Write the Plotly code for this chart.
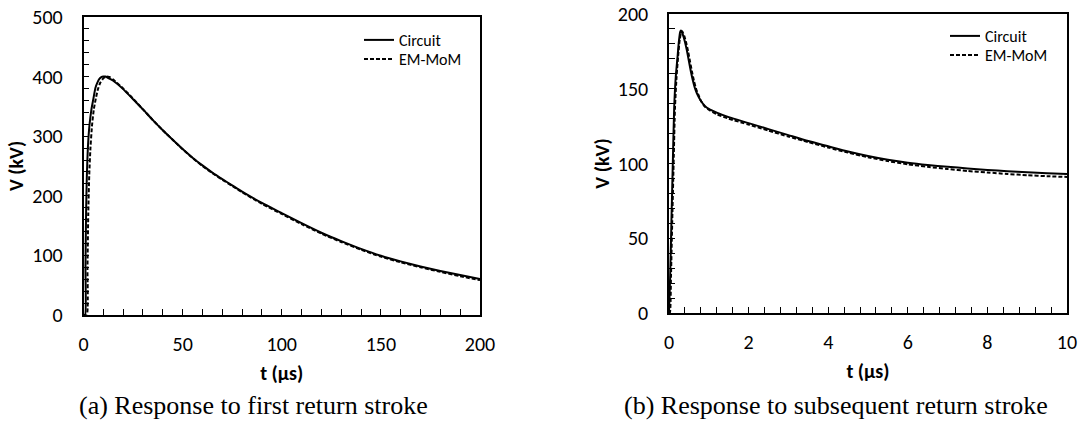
import plotly.graph_objects as go

W, H = 1083, 430

# ---- data: (a) first return stroke ----
t_a_circuit = [0, 0.8, 1.0, 1.3, 1.7, 2.2, 3, 4, 5, 6, 7, 8, 9, 10, 11, 12, 15, 20, 25, 30, 35, 40, 45, 50,
               55, 60, 65, 70, 75, 80, 90, 100, 110, 120, 130, 140, 150, 160, 170, 180, 190, 200]
v_a_circuit = [0, 0, 80, 170, 235, 280, 318, 345, 363, 381, 390, 396, 399, 400, 400, 398.5, 393, 379, 362, 345, 327, 310, 294, 278.5,
               264, 251, 239, 228, 217.5, 207, 188, 171, 154, 138, 124, 111, 99.5, 90, 81.5, 74, 67, 60.5]
t_a_mom = [0, 1.6, 2.0, 2.4, 2.9, 3.5, 4.3, 5.2, 6.2, 7.2, 8.5, 10, 11.5, 13, 15, 20, 25, 30, 35, 40, 45, 50,
           55, 60, 65, 70, 75, 80, 90, 100, 110, 120, 130, 140, 150, 160, 170, 180, 190, 200]
v_a_mom = [0, 0, 80, 170, 235, 280, 318, 345, 363, 378, 390, 397, 400, 399.5, 395, 380, 363, 345, 327, 310, 294, 278,
           263.5, 250, 238, 227, 216.5, 206, 186.5, 169.5, 152.5, 136.5, 122.5, 109.5, 98, 88.5, 80, 72.5, 65, 58.5]

# ---- data: (b) subsequent return stroke ----
t_b_circuit = [0, 0.03, 0.06, 0.1, 0.13, 0.17, 0.21, 0.25, 0.28, 0.3, 0.35, 0.4, 0.45, 0.5, 0.55, 0.6, 0.65, 0.7,
               0.8, 0.9, 1.0, 1.2, 1.5, 2, 2.5, 3, 3.5, 4, 4.5, 5, 5.5, 6, 6.5, 7, 7.5, 8, 8.5, 9, 9.5, 10]
v_b_circuit = [0, 25, 60, 105, 137, 158, 170, 182, 188, 189, 186, 181.5, 175.5, 168.5, 161.5, 155.5, 150.5, 147,
               142, 138.5, 136.5, 134, 131, 127, 123, 119, 115, 111.5, 108, 105, 102.5, 100.5, 99, 97.8, 96.7, 95.7, 94.8, 94.1, 93.5, 93]
t_b_mom = [0, 0.02, 0.05, 0.08, 0.12, 0.15, 0.19, 0.23, 0.27, 0.31, 0.33, 0.38, 0.43, 0.48, 0.53, 0.58, 0.63, 0.68, 0.73,
           0.8, 0.9, 1.0, 1.2, 1.5, 2, 2.5, 3, 3.5, 4, 4.5, 5, 5.5, 6, 6.5, 7, 7.5, 8, 8.5, 9, 9.5, 10]
v_b_mom = [0, 0, 25, 60, 105, 137, 158, 172, 183, 188, 188.5, 185.5, 181, 175, 168, 161, 155, 150, 146.5,
           142, 138, 136, 133, 130, 126, 122, 118, 114.3, 110.7, 107.3, 104.2, 101.6, 99.5, 97.8, 96.3, 95, 94, 93, 92.2, 91.5, 91]

series_names = ["Circuit", "EM-MoM"]
caption_a = "(a) Response to first return stroke"
caption_b = "(b) Response to subsequent return stroke"
x_title = "t (µs)"
y_title = "V (kV)"

FONT = "Carlito, Lato, sans-serif"

def px_x(p):
    return p / W

def px_y(p):
    return 1 - p / H

fig = go.Figure()

solid = dict(color="black", width=2, shape="spline", smoothing=0.6)
dashed = dict(color="black", width=2, dash="4px,2px", shape="spline", smoothing=0.6)

fig.add_trace(go.Scatter(x=t_a_circuit, y=v_a_circuit, mode="lines", name=series_names[0],
                         line=solid, xaxis="x", yaxis="y", legend="legend"))
fig.add_trace(go.Scatter(x=t_a_mom, y=v_a_mom, mode="lines", name=series_names[1],
                         line=dashed, xaxis="x", yaxis="y", legend="legend2"))
fig.add_trace(go.Scatter(x=t_b_circuit, y=v_b_circuit, mode="lines", name=series_names[0],
                         line=solid, xaxis="x2", yaxis="y2", legend="legend3"))
fig.add_trace(go.Scatter(x=t_b_mom, y=v_b_mom, mode="lines", name=series_names[1],
                         line=dashed, xaxis="x2", yaxis="y2", legend="legend4"))

tickfont = dict(family=FONT, size=20, color="black")
titlefont = dict(family=FONT, size=20, color="black", weight="bold")

def xax(domain, rng, dtick, minor, anchor):
    return dict(domain=domain, range=rng, dtick=dtick, tick0=0, anchor=anchor,
                showline=True, linecolor="black", linewidth=1.5, mirror=True,
                ticks="inside", ticklen=6, tickwidth=1, tickcolor="black",
                minor=dict(dtick=minor, ticks="inside", ticklen=6, tickwidth=1, tickcolor="black"),
                showgrid=False, zeroline=False, tickfont=tickfont, ticklabelstandoff=10,
                title=dict(text=x_title, font=titlefont, standoff=11), automargin=False)

def yax(domain, rng, dtick, minor, anchor):
    return dict(domain=domain, range=rng, dtick=dtick, tick0=0, anchor=anchor,
                showline=True, linecolor="black", linewidth=1.5, mirror=True,
                ticks="inside", ticklen=6, tickwidth=1, tickcolor="black",
                minor=dict(dtick=minor, ticks="inside", ticklen=6, tickwidth=1, tickcolor="black"),
                showgrid=False, zeroline=False, tickfont=tickfont, ticklabelstandoff=15,
                title=dict(text=y_title, font=titlefont, standoff=3), automargin=False)

legfont = dict(family=FONT, size=16, color="black")

def leg(xp, yp):
    return dict(x=px_x(xp), y=px_y(yp), xanchor="left", yanchor="middle",
                font=legfont, bgcolor="rgba(0,0,0,0)")

fig.update_layout(
    width=W, height=H, margin=dict(l=0, r=0, t=0, b=0),
    paper_bgcolor="white", plot_bgcolor="white",
    xaxis=xax([px_x(83.5), px_x(480)], [0, 200], 50, 10, "y"),
    yaxis=yax([px_y(315), px_y(17)], [0, 500], 100, 20, "x"),
    xaxis2=xax([px_x(669), px_x(1067)], [0, 10], 2, 0.4, "y2"),
    yaxis2=yax([px_y(313), px_y(14)], [0, 200], 50, 10, "x2"),
    legend=leg(359, 40),
    legend2=leg(359, 59),
    legend3=leg(945, 36),
    legend4=leg(945, 55),
    showlegend=True,
)

capfont = dict(family="Liberation Serif, Times New Roman, serif", size=26, color="black")
fig.add_annotation(text=caption_a, x=px_x(253), y=px_y(405), xref="paper", yref="paper",
                   showarrow=False, font=capfont, xanchor="center", yanchor="middle")
fig.add_annotation(text=caption_b, x=px_x(836), y=px_y(405), xref="paper", yref="paper",
                   showarrow=False, font=capfont, xanchor="center", yanchor="middle")

fig.write_html("out.html")
